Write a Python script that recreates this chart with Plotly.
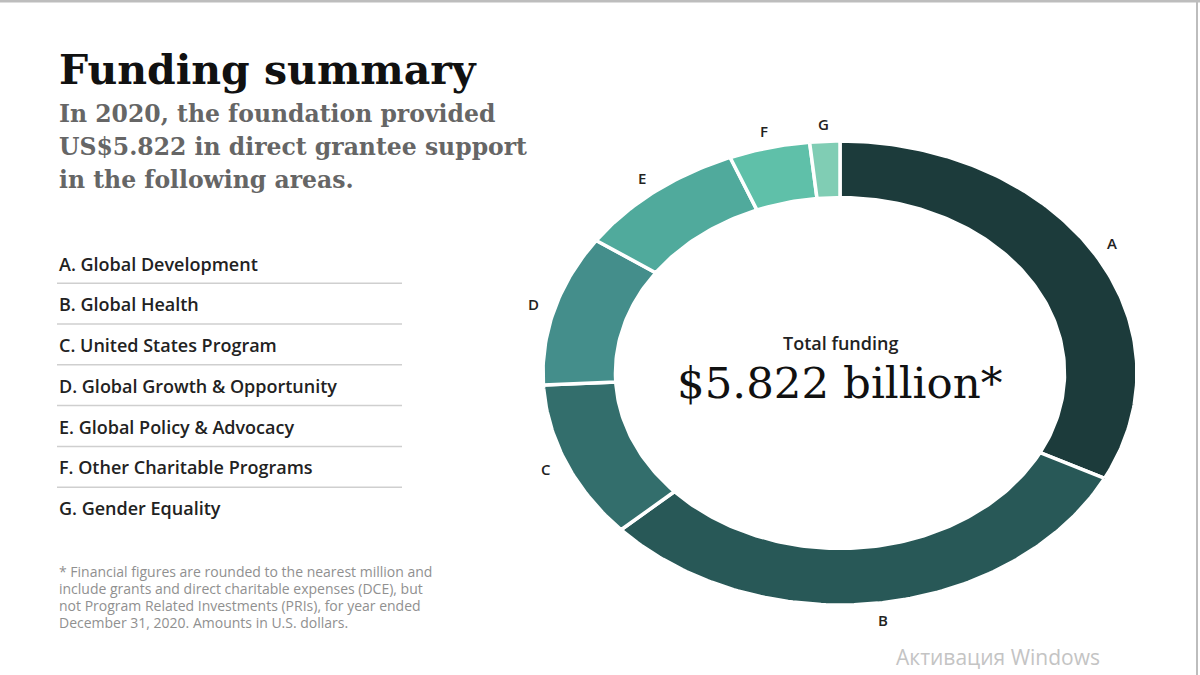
import numpy as np
import plotly.graph_objects as go

# ---------------- data ----------------
letters = ["A", "B", "C", "D", "E", "F", "G"]
areas = ["Global Development", "Global Health", "United States Program",
         "Global Growth & Opportunity", "Global Policy & Advocacy",
         "Other Charitable Programs", "Gender Equality"]
funding_musd = [1892, 1787, 640, 611, 541, 256, 95]   # estimated, US$ millions
colors = ["#1c3b3b", "#285857", "#336e6c", "#448e8b", "#50aa9c", "#5fc0a9", "#80cdb4"]

title_text = "Funding summary"
subtitle_lines = ["In 2020, the foundation provided",
                  "US$5.822 in direct grantee support",
                  "in the following areas."]
footnote_lines = ["* Financial figures are rounded to the nearest million and",
                  "include grants and direct charitable expenses (DCE), but",
                  "not Program Related Investments (PRIs), for year ended",
                  "December 31, 2020. Amounts in U.S. dollars."]
center_label = "Total funding"
center_value = "$5.822 billion*"
watermark = "Активация Windows"

W, H = 1200, 675
HOLE = 0.756
CX, CY, RX, RY = 840, 373, 297, 232   # donut centre and radii in pixels
PAD = 1.2                               # axis range in units of radius

fig = go.Figure()

# ---------------- donut (unit circle, stretched by the axes) ----------------
vals = np.array(funding_musd, dtype=float)
fr = vals / vals.sum()
starts = np.concatenate([[0], np.cumsum(fr)[:-1]]) * 2 * np.pi
ends = np.cumsum(fr) * 2 * np.pi
for L, a, v, c, t0, t1 in zip(letters, areas, funding_musd, colors, starts, ends):
    n = max(int((t1 - t0) / (2 * np.pi) * 400), 8)
    th = np.linspace(t0, t1, n)
    xs = np.concatenate([np.sin(th), HOLE * np.sin(th[::-1])])
    ys = np.concatenate([np.cos(th), HOLE * np.cos(th[::-1])])
    xs = np.append(xs, xs[0]); ys = np.append(ys, ys[0])
    fig.add_trace(go.Scatter(x=xs, y=ys, mode="lines", fill="toself",
                             fillcolor=c, line=dict(color="white", width=3.5),
                             name=f"{L}. {a}", hoverinfo="text",
                             text=f"{L}. {a}: ${v/1000:.3f}B", showlegend=False))
    mid = (t0 + t1) / 2
    fig.add_annotation(x=1.075 * np.sin(mid), y=1.075 * np.cos(mid), xref="x", yref="y",
                       text=L, showarrow=False,
                       font=dict(family="Open Sans", size=15, color="#222", weight=600))

fig.add_annotation(x=0, y=0.13, xref="x", yref="y", text=center_label, showarrow=False,
                   font=dict(family="Open Sans", size=18, color="#222", weight=600))
fig.add_annotation(x=0, y=-0.045, xref="x", yref="y", text=center_value, showarrow=False,
                   font=dict(family="DejaVu Serif", size=43.5, color="#111"))

# ---------------- left text ----------------
def py(p):
    return 1 - p / H

fig.add_annotation(x=57 / W, y=py(70), xref="paper", yref="paper", xanchor="left",
                   yanchor="middle", text=title_text, showarrow=False,
                   font=dict(family="DejaVu Serif", size=41, color="#111", weight="bold"))
for i, line in enumerate(subtitle_lines):
    fig.add_annotation(x=57 / W, y=py(114 + 33 * i), xref="paper", yref="paper",
                       xanchor="left", yanchor="middle", text=line, showarrow=False,
                       font=dict(family="DejaVu Serif", size=23.5, color="#666", weight="bold"))

for i, (L, a) in enumerate(zip(letters, areas)):
    yc = 263.5 + 40.8 * i
    fig.add_annotation(x=57 / W, y=py(yc), xref="paper", yref="paper", xanchor="left",
                       yanchor="middle", text=f"{L}. {a}", showarrow=False,
                       font=dict(family="Open Sans", size=18, color="#222", weight=600))
    if i < len(letters) - 1:
        fig.add_shape(type="line", xref="paper", yref="paper", x0=57 / W, x1=402 / W,
                      y0=py(yc + 19.7), y1=py(yc + 19.7),
                      line=dict(color="#cfcfcf", width=1.5))

for i, line in enumerate(footnote_lines):
    fig.add_annotation(x=57 / W, y=py(571 + 17 * i), xref="paper", yref="paper",
                       xanchor="left", yanchor="middle", text=line, showarrow=False,
                       font=dict(family="Open Sans", size=14, color="#909090"))

fig.add_annotation(x=998 / W, y=py(657), xref="paper", yref="paper", xanchor="center",
                   yanchor="middle", text=watermark, showarrow=False,
                   font=dict(family="Open Sans", size=21, color="#c4c4c4"))

# frame edges seen in the screenshot
fig.add_shape(type="line", xref="paper", yref="paper", x0=0, x1=1, y0=py(1), y1=py(1),
              line=dict(color="#bdbdbd", width=3))
fig.add_shape(type="line", xref="paper", yref="paper", x0=1197 / W, x1=1197 / W, y0=0, y1=1,
              line=dict(color="#bdbdbd", width=2))

fig.update_layout(
    width=W, height=H, margin=dict(l=0, r=0, t=0, b=0),
    paper_bgcolor="white", plot_bgcolor="white", showlegend=False,
    xaxis=dict(domain=[(CX - PAD * RX) / W, (CX + PAD * RX) / W], range=[-PAD, PAD],
               visible=False, fixedrange=True),
    yaxis=dict(domain=[(H - CY - PAD * RY) / H, (H - CY + PAD * RY) / H], range=[-PAD, PAD],
               visible=False, fixedrange=True),
)

fig.write_html("out.html", config={"displayModeBar": False},
               post_script="document.body.style.margin='0';")
